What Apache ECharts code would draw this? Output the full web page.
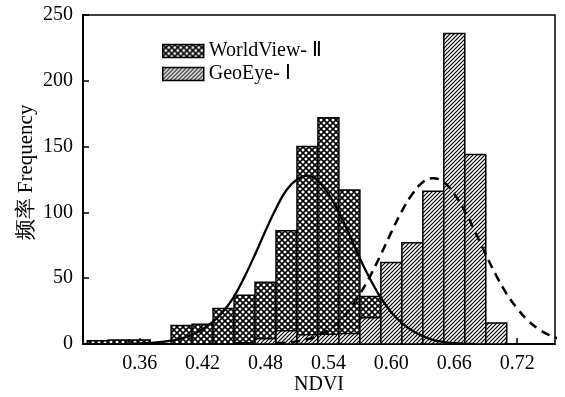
<!DOCTYPE html>
<html>
<head>
<meta charset="utf-8">
<script src="https://cdn.jsdelivr.net/npm/echarts@6/dist/echarts.min.js"></script>
<style>
html,body{margin:0;padding:0;background:#fff;}
#chart{width:565px;height:397px;}
</style>
</head>
<body>
<div id="chart"></div>
<script>
// ---- data ----
const binStarts = [0.31,0.33,0.35,0.37,0.39,0.41,0.43,0.45,0.47,0.49,0.51,0.53,0.55,0.57,0.59,0.61,0.63,0.65,0.67,0.69];
const binWidth = 0.02;
const worldViewCounts = [2.5,3,3,0,14,15,27,37,47,86,150,172,117,36,0,0,0,0,0,0];
const geoEyeCounts    = [0,0,0,0,0,0,0,1,4,10,7,7.5,8,20,62,77,116,236,144,16];
const xTickValues = [0.36,0.42,0.48,0.54,0.60,0.66,0.72];
const wvCurveX = [0.35,0.37,0.39,0.41,0.43,0.44,0.45,0.46,0.47,0.48,0.49,0.50,0.51,0.52,0.53,0.54,0.55,0.56,0.57,0.58,0.59,0.60,0.61,0.62,0.63,0.64,0.65,0.66,0.68];
const wvCurveY = [0.2,0.8,2.5,7,17,25,36,51,68,86,103,117,125,128,124,114,100,83,65,49,35,24,16,10,6,3,1.5,0.6,0];
const geCurveX = [0.49,0.50,0.51,0.52,0.53,0.54,0.55,0.56,0.57,0.58,0.59,0.60,0.61,0.62,0.63,0.64,0.65,0.66,0.67,0.68,0.69,0.70,0.71,0.72,0.73,0.74,0.75,0.76];
const geCurveY = [0.5,1,2,3.6,6.3,10.7,17,26,38,52,68,85,101,114,123,126,123,114,101,85,68,52,38,27,18,11.5,7,4];
const seriesNames = ['WorldView- Ⅱ','GeoEye- Ⅰ'];

// ---- patterns ----
function makeCross(){
  const c=document.createElement('canvas'); c.width=6; c.height=6;
  const g=c.getContext('2d'); g.fillStyle='#fff'; g.fillRect(0,0,6,6);
  g.strokeStyle='#000'; g.lineWidth=1.6;
  g.beginPath();
  g.moveTo(-1,-1); g.lineTo(7,7);
  g.moveTo(-1,7); g.lineTo(7,-1);
  g.stroke();
  return c;
}
function makeHatch(){
  const c=document.createElement('canvas'); c.width=4; c.height=4;
  const g=c.getContext('2d'); g.fillStyle='#fff'; g.fillRect(0,0,4,4);
  g.strokeStyle='#000'; g.lineWidth=1.2;
  g.beginPath();
  g.moveTo(-1,5); g.lineTo(5,-1);
  g.moveTo(-1,1); g.lineTo(1,-1);
  g.moveTo(3,5); g.lineTo(5,3);
  g.stroke();
  return c;
}
const crossFill = {image: makeCross(), repeat:'repeat'};
const hatchFill = {image: makeHatch(), repeat:'repeat'};

function histData(counts){
  return binStarts.map((s,i)=>[s, s+binWidth, counts[i]]);
}
function histRender(fill){
  return function(params, api){
    const y = api.value(2);
    if (!y) return null;
    const p0 = api.coord([api.value(0), y]);
    const p1 = api.coord([api.value(1), 0]);
    return {type:'rect', shape:{x:p0[0], y:p0[1], width:p1[0]-p0[0], height:p1[1]-p0[1]},
      style:{fill:fill, stroke:'#000', lineWidth:1.5}};
  };
}
const font = '"Liberation Serif","Times New Roman",serif';

const chart = echarts.init(document.getElementById('chart'), null, {renderer:'canvas'});
chart.setOption({
  animation:false,
  backgroundColor:'#fff',
  textStyle:{fontFamily:font, color:'#000'},
  grid:{left:83, right:10, top:15, bottom:53, show:true, borderColor:'#000', borderWidth:1.5,
    backgroundColor:'transparent', containLabel:false, outerBoundsMode:'none'},
  legend:{
    orient:'vertical', left:157, top:36, itemWidth:41, itemHeight:13, itemGap:3,
    textStyle:{fontFamily:font, fontSize:20, color:'#000'},
    data:[
      {name:seriesNames[0], icon:'rect', itemStyle:{color:crossFill, borderColor:'#000', borderWidth:1.5}},
      {name:seriesNames[1], icon:'rect', itemStyle:{color:hatchFill, borderColor:'#000', borderWidth:1.5}}
    ]
  },
  xAxis:{
    type:'value', min:0.306, max:0.756,
    name:'NDVI', nameLocation:'middle', nameGap:31, nameMoveOverlap:false,
    nameTextStyle:{fontFamily:font, fontSize:20, color:'#000'},
    axisLine:{lineStyle:{color:'#000', width:2}},
    axisTick:{inside:true, length:6, customValues:xTickValues, lineStyle:{color:'#000', width:1.5}},
    axisLabel:{customValues:xTickValues, formatter:v=>v.toFixed(2), fontFamily:font, fontSize:20, color:'#000', margin:10},
    splitLine:{show:false}
  },
  yAxis:{
    type:'value', min:0, max:250, interval:50,
    name:'频率 Frequency', nameLocation:'middle', nameGap:46, nameMoveOverlap:false,
    nameTextStyle:{fontFamily:font, fontSize:21, color:'#000', padding:[0,0,0,14]},
    axisLine:{show:true, lineStyle:{color:'#000', width:2}},
    axisTick:{show:true, inside:true, length:6, lineStyle:{color:'#000', width:1.5}},
    axisLabel:{fontFamily:font, fontSize:20, color:'#000', margin:10},
    splitLine:{show:false}
  },
  series:[
    {type:'custom', name:seriesNames[0], clip:true, renderItem:histRender(crossFill), data:histData(worldViewCounts),
      itemStyle:{color:crossFill}, encode:{x:[0,1], y:2}, z:2},
    {type:'custom', name:seriesNames[1], clip:true, renderItem:histRender(hatchFill), data:histData(geoEyeCounts),
      itemStyle:{color:hatchFill}, encode:{x:[0,1], y:2}, z:3},
    {type:'line', name:'wvfit', data:wvCurveX.map((x,i)=>[x,wvCurveY[i]]), smooth:0.4, symbol:'none', clip:true,
      lineStyle:{color:'#000', width:2.3}, z:5, silent:true},
    {type:'line', name:'gefit', data:geCurveX.map((x,i)=>[x,geCurveY[i]]), smooth:0.4, symbol:'none', clip:true,
      lineStyle:{color:'#000', width:2.5, type:[9,6]}, z:5, silent:true}
  ]
});
</script>
</body>
</html>
